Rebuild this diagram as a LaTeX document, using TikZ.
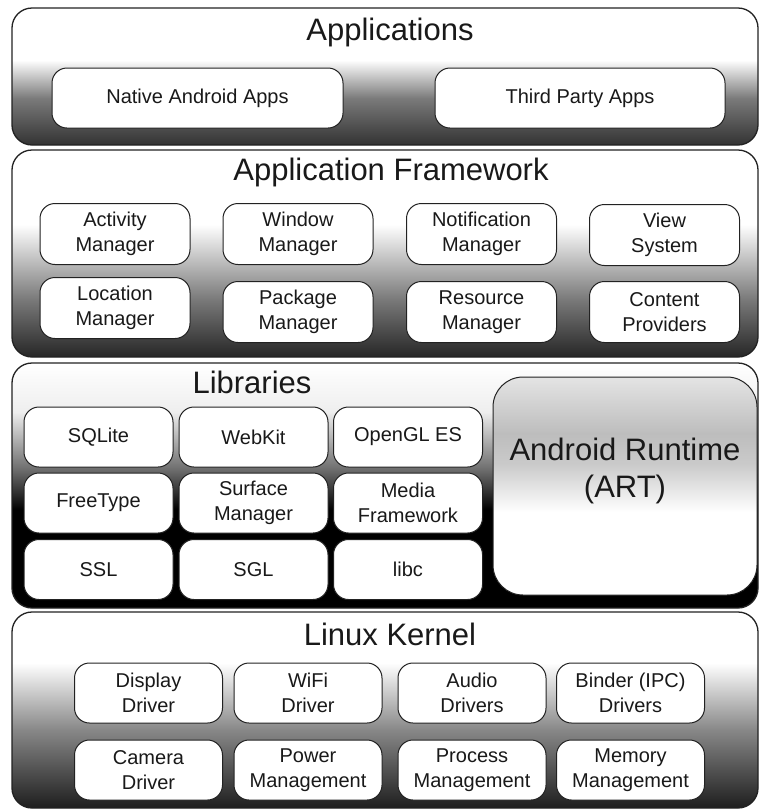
\documentclass[tikz,border=0pt]{standalone}
\usepackage{fontspec}
\setmainfont{Liberation Sans}
\definecolor{laydark}{HTML}{333333}
\definecolor{laymid}{HTML}{7A7A7A}
\definecolor{fwdark}{HTML}{262626}
\definecolor{fwmid}{HTML}{7A7A7A}
\definecolor{libmid}{HTML}{6A6A6A}
\definecolor{liblight}{HTML}{EEEEEE}
\definecolor{kdark}{HTML}{1E1E1E}
\definecolor{kmid}{HTML}{888888}
\definecolor{arttop}{HTML}{E4E4E4}
\definecolor{artmid}{HTML}{BDBDBD}
\definecolor{artmid2}{HTML}{CACACA}
\definecolor{edge}{HTML}{222222}
\pgfdeclareverticalshading{appsh}{100bp}{color(0bp)=(laydark); color(25bp)=(laydark); color(42bp)=(laymid); color(56bp)=(white); color(100bp)=(white)}
\pgfdeclareverticalshading{fwsh}{100bp}{color(0bp)=(fwdark); color(25bp)=(fwdark); color(39bp)=(fwmid); color(57bp)=(white); color(100bp)=(white)}
\pgfdeclareverticalshading{libsh}{100bp}{color(0bp)=(black); color(25bp)=(black); color(45bp)=(black); color(53bp)=(libmid); color(65bp)=(liblight); color(75bp)=(white); color(100bp)=(white)}
\pgfdeclareverticalshading{ksh}{100bp}{color(0bp)=(kdark); color(25bp)=(kdark); color(45bp)=(kmid); color(62bp)=(white); color(100bp)=(white)}
\pgfdeclareverticalshading{artsh}{100bp}{color(0bp)=(white); color(25bp)=(white); color(44bp)=(white); color(55bp)=(artmid2); color(62bp)=(artmid); color(75bp)=(arttop); color(100bp)=(arttop)}
\tikzset{
  layer/.style={draw=edge, line width=1.3pt, rounded corners=20pt, inner sep=0pt},
  compbox/.style={draw=edge, line width=1pt, fill=white, rounded corners=15pt, inner sep=0pt,
    align=center, font=\fontsize{20}{25}\selectfont, text=black!90},
  title/.style={font=\fontsize{31}{36}\selectfont, text=black!90, inner sep=0pt}
}
\begin{document}
\begin{tikzpicture}[x=1pt, y=-1pt]
\useasboundingbox (0,0) rectangle (760,812);
% layers
\node[layer, shading=appsh, minimum width=746pt, minimum height=137pt] (apps) at (385,76.5) {};
\node[layer, shading=fwsh, minimum width=746pt, minimum height=207pt] (fw) at (385,253.5) {};
\node[layer, shading=libsh, minimum width=746pt, minimum height=245pt] (libs) at (385,485.5) {};
\node[layer, shading=ksh, minimum width=746pt, minimum height=196pt] (kern) at (385,710) {};
% titles
\node[title] (appsT) at (390,32) {Applications};
\node[title] (fwT) at (391,172) {Application Framework};
\node[title] (libsT) at (252,382) {Libraries};
\node[title] (kernT) at (390,634) {Linux Kernel};
% applications
\node[compbox, minimum width=291pt, minimum height=60pt] (native) at (197.5,98) {Native Android Apps};
\node[compbox, minimum width=290pt, minimum height=60pt] (third) at (580,98) {Third Party Apps};
% framework
\begin{scope}[every node/.append style={compbox, minimum width=150pt, minimum height=61pt}]
\node (act) at (115,234) {Activity\\Manager};
\node (win) at (298,234) {Window\\Manager};
\node (notif) at (481.5,234) {Notification\\Manager};
\node (view) at (664.5,235) {View\\System};
\node (loc) at (115,308) {Location\\Manager};
\node (pkg) at (298,312) {Package\\Manager};
\node (res) at (481.5,312) {Resource\\Manager};
\node (cont) at (664.5,312) {Content\\Providers};
\end{scope}
% libraries
\begin{scope}[every node/.append style={compbox, minimum width=149pt, minimum height=60pt}]
\node (sqlite) at (98.5,437) {SQLite};
\node (webkit) at (253.5,437) {WebKit};
\node (opengl) at (408,437) {OpenGL ES};
\node (freetype) at (98.5,503) {FreeType};
\node (surface) at (253.5,503) {Surface\\Manager};
\node (media) at (408,503) {Media\\Framework};
\node (ssl) at (98.5,569.5) {SSL};
\node (sgl) at (253.5,569.5) {SGL};
\node (libc) at (408,569.5) {libc};
\end{scope}
% ART
\node[draw=edge, line width=1pt, rounded corners=30pt, shading=artsh, minimum width=264pt, minimum height=218pt, inner sep=0pt] (art) at (625,486) {};
\node[align=center, font=\fontsize{31}{37}\selectfont, text=black!90, inner sep=0pt] (artT) at (625,471) {Android Runtime\\(ART)};
% kernel
\begin{scope}[every node/.append style={compbox, minimum width=148pt, minimum height=60pt}]
\node (disp) at (148.5,693) {Display\\Driver};
\node (wifi) at (308,693) {WiFi\\Driver};
\node (audio) at (472,693) {Audio\\Drivers};
\node (binder) at (630.5,693) {Binder (IPC)\\Drivers};
\node (cam) at (148.5,770) {Camera\\Driver};
\node (power) at (308,770) {Power\\Management};
\node (proc) at (472,770) {Process\\Management};
\node (mem) at (630.5,770) {Memory\\Management};
\end{scope}
\end{tikzpicture}
\end{document}
